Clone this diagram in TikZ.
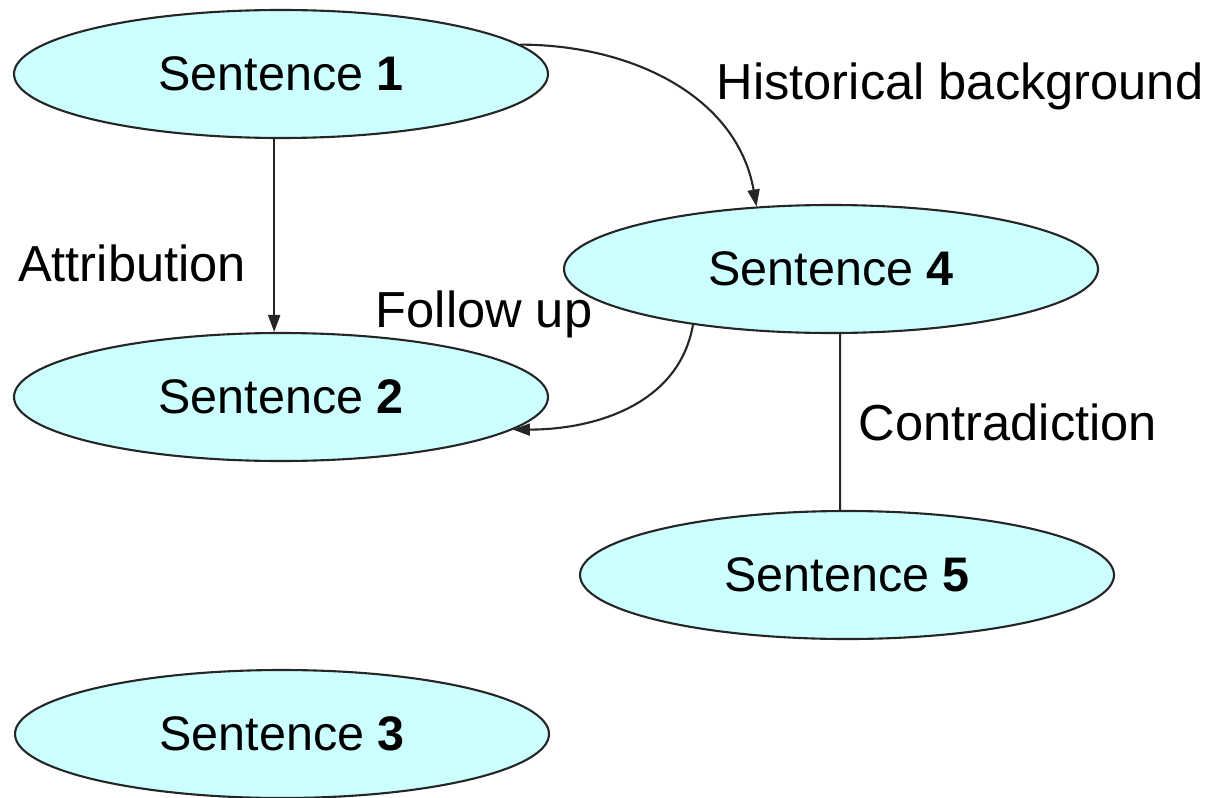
\documentclass[tikz,border=0pt]{standalone}
\usepackage{fontspec}
\setmainfont{Liberation Sans}
\usetikzlibrary{shapes.geometric,arrows.meta}
\definecolor{sentfill}{RGB}{204,255,255}

\begin{document}
\begin{tikzpicture}[
		sent/.style={ellipse, draw=black!85, line width=0.6pt, fill=sentfill, inner sep=0pt,
			minimum width=5.34cm, minimum height=1.28cm, font=\fontsize{13.8}{16}\selectfont},
		rel/.style={font=\fontsize{14.4}{17}\selectfont, inner sep=0pt},
		link/.style={line width=0.6pt, black!85, -{Triangle[length=0.17cm, width=0.12cm]}}
	]
	\useasboundingbox (0, 0) rectangle (12.22, -7.97);

	% sentences
	\node[sent] (s1) at (2.81, -0.74) {Sentence {\bfseries 1}};
	\node[sent] (s2) at (2.81, -3.97) {Sentence {\bfseries 2}};
	\node[sent] (s3) at (2.82, -7.34) {Sentence {\bfseries 3}};
	\node[sent] (s4) at (8.31, -2.69) {Sentence {\bfseries 4}};
	\node[sent] (s5) at (8.47, -5.75) {Sentence {\bfseries 5}};

	% relations
	\draw[link] (s1.-96) -- (s2.96);
	\draw[link] (s1.7) to[out=0, in=100] (s4.140);
	\draw[link] (s4.-158) to[out=260, in=0] (s2.-8);
	\draw[line width=0.6pt, black!85] (s4.-82) -- (s5.96);

	\node[rel] (attr) at (1.32, -2.63) {Attribution};
	\node[rel] (hist) at (9.60, -0.865) {Historical background};
	\node[rel] (follow) at (4.84, -3.14) {Follow up};
	\node[rel] (contra) at (10.08, -4.22) {Contradiction};
\end{tikzpicture}
\end{document}
